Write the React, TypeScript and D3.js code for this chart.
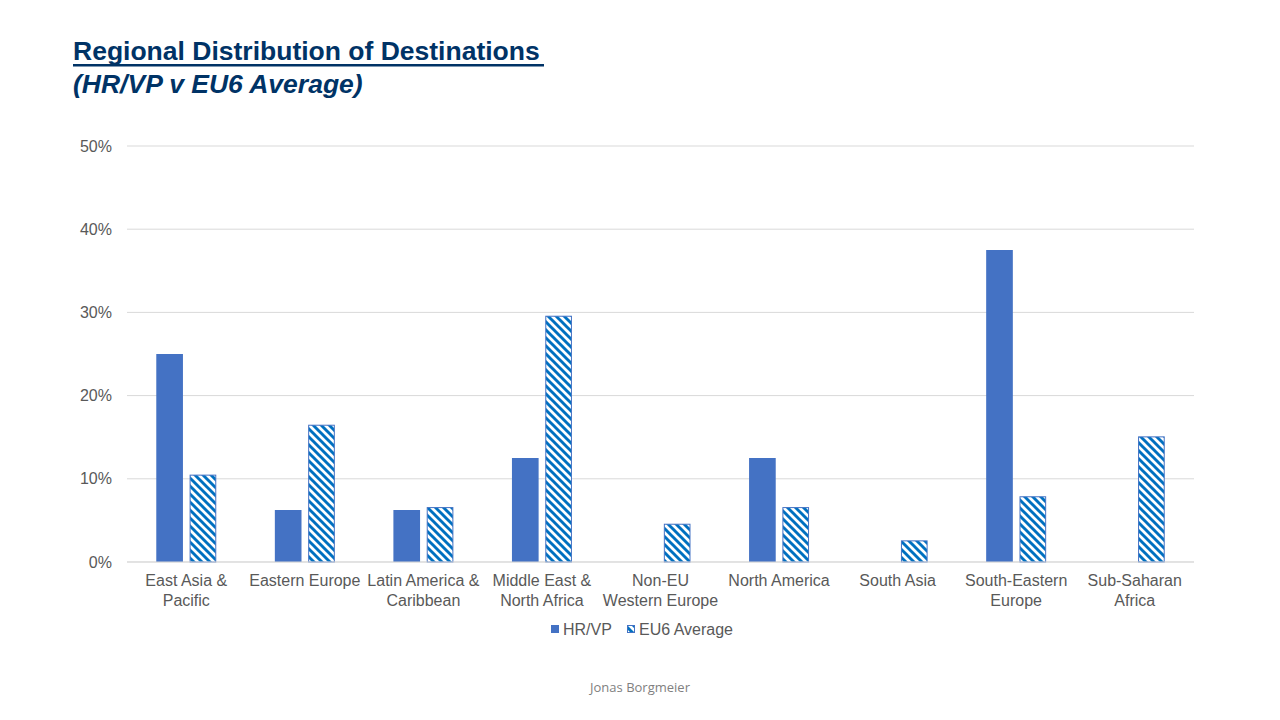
import React from "react";
import * as d3 from "d3";

const categories: string[][] = [
  ["East Asia &", "Pacific"],
  ["Eastern Europe"],
  ["Latin America &", "Caribbean"],
  ["Middle East &", "North Africa"],
  ["Non-EU", "Western Europe"],
  ["North America"],
  ["South Asia"],
  ["South-Eastern", "Europe"],
  ["Sub-Saharan", "Africa"],
];
const seriesNames = ["HR/VP", "EU6 Average"];
const hrvp = [25, 6.25, 6.25, 12.5, 0, 12.5, 0, 37.5, 0];
const eu6 = [10.5, 16.5, 6.6, 29.6, 4.6, 6.6, 2.6, 7.9, 15.1];
const yTicks = [0, 10, 20, 30, 40, 50];

const W = 1280;
const H = 720;
const left = 127;
const right = 1194;
const top = 146;
const bottom = 562;
const font = "'Liberation Sans', Arial, sans-serif";

export default function App() {
  const keys = categories.map((c) => c.join(" "));
  const x0 = d3
    .scaleBand<string>()
    .domain(keys)
    .range([left, right])
    .paddingInner(0.494)
    .paddingOuter(0.247);
  const x1 = d3
    .scaleBand<string>()
    .domain(seriesNames)
    .range([0, x0.bandwidth()])
    .paddingInner(0.2);
  const y = d3.scaleLinear().domain([0, 50]).range([bottom, top]);
  const values = [hrvp, eu6];

  return (
    <svg
      width={W}
      height={H}
      style={{ position: "absolute", left: 0, top: 0, background: "#fff" }}
    >
      <defs>
        <pattern id="hatch" patternUnits="userSpaceOnUse" width={8} height={8}>
          <rect width={8} height={8} fill="#fff" />
          <path
            d="M-2,-2 L10,10 M-6,2 L2,10 M6,-2 L14,6"
            stroke="#0070C0"
            strokeWidth={2.9}
          />
        </pattern>
      </defs>
      <rect width={W} height={H} fill="#fff" />
      <text x={73} y={60} fontFamily={font} fontSize={26.5} fontWeight="bold" fill="#003366">
        Regional Distribution of Destinations
      </text>
      <rect x={73} y={64} width={471} height={2.5} fill="#003366" />
      <text
        x={73}
        y={93}
        fontFamily={font}
        fontSize={26.5}
        fontWeight="bold"
        fontStyle="italic"
        fill="#003366"
      >
        (HR/VP v EU6 Average)
      </text>

      {yTicks.map((t) => (
        <g key={t}>
          <line
            x1={left}
            x2={right}
            y1={y(t)}
            y2={y(t)}
            stroke="#d9d9d9"
            strokeWidth={1}
          />
          <text
            x={112}
            y={y(t)}
            dy="0.35em"
            textAnchor="end"
            fontFamily={font}
            fontSize={16}
            fill="#595959"
          >
            {t}%
          </text>
        </g>
      ))}

      {keys.map((k, i) => (
        <g key={k}>
          {seriesNames.map((s, j) => {
            const v = values[j][i];
            if (v <= 0) return null;
            const bx = (x0(k) as number) + (x1(s) as number);
            const bw = x1.bandwidth();
            return j === 0 ? (
              <rect key={s} x={bx} y={y(v)} width={bw} height={y(0) - y(v)} fill="#4472C4" />
            ) : (
              <rect
                key={s}
                x={bx + 0.5}
                y={y(v) + 0.5}
                width={bw - 1}
                height={y(0) - y(v) - 0.5}
                fill="url(#hatch)"
                stroke="#4472C4"
                strokeWidth={1}
              />
            );
          })}
          {categories[i].map((line, li) => (
            <text
              key={li}
              x={(x0(k) as number) + x0.bandwidth() / 2}
              y={586 + li * 19.5}
              textAnchor="middle"
              fontFamily={font}
              fontSize={16}
              fill="#595959"
            >
              {line}
            </text>
          ))}
        </g>
      ))}
      <line x1={left} x2={right} y1={bottom} y2={bottom} stroke="#d9d9d9" />

      <g>
        <rect x={551} y={625} width={8} height={8} fill="#4472C4" />
        <text x={563} y={635} fontFamily={font} fontSize={16} fill="#595959">
          {seriesNames[0]}
        </text>
        <rect x={627.5} y={625.5} width={7} height={7} fill="url(#hatch)" stroke="#4472C4" />
        <text x={639} y={635} fontFamily={font} fontSize={16} fill="#595959">
          {seriesNames[1]}
        </text>
      </g>

      <text
        x={640}
        y={692}
        textAnchor="middle"
        fontFamily="'Open Sans', sans-serif"
        fontSize={13}
        fill="#7f7f7f"
      >
        Jonas Borgmeier
      </text>
    </svg>
  );
}
